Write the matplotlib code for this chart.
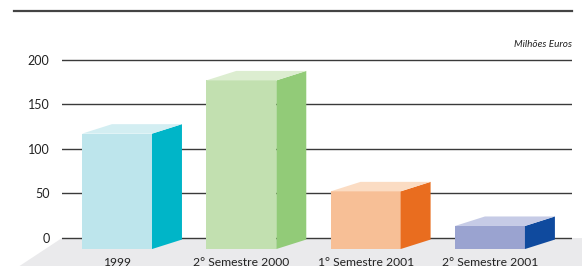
import matplotlib
matplotlib.use("Agg")
import matplotlib.pyplot as plt
from matplotlib.patches import Polygon

plt.rcParams['font.family'] = ['Lato', 'DejaVu Sans']

# Dados (milhões de euros)
categorias = ['1999', '2° Semestre 2000', '1° Semestre 2001', '2° Semestre 2001']
valores = [117, 177, 52, 13]
y_ticks = [0, 50, 100, 150, 200]

# Cores: frente, lado, topo
cor_frente = ['#bde5ec', '#c2e0b0', '#f7bf96', '#9aa3d0']
cor_lado = ['#00b5c8', '#92cb78', '#e96d1f', '#0f4a9e']
cor_topo = ['#d3eef2', '#dcedd0', '#fbdcc3', '#c6cbe6']

W, H = 582, 266
fig = plt.figure(figsize=(W / 100, H / 100), dpi=100)
ax = fig.add_axes([62 / W, 0, 510 / W, 1])
ax.set_xlim(-0.4425, 3.66)
ax.set_ylim(-32.1, 267.6)
for s in ax.spines.values():
    s.set_visible(False)

# Chão cinzento
floor = Polygon([(-0.4425, -0.8), (3.8, -0.8), (3.8, -33), (-0.80, -33)],
                closed=True, facecolor='#eaeaec', edgecolor='none',
                zorder=0, clip_on=False)
ax.add_patch(floor)

# Linhas de grelha
ax.set_yticks(y_ticks)
ax.set_yticklabels([str(t) for t in y_ticks], fontsize=9, color='#222222')
ax.tick_params(axis='y', length=0, pad=9)
ax.set_xticks([])
ax.yaxis.grid(True, color='#3a3a3a', linewidth=1.0)
ax.set_axisbelow(True)

# Barras 3D
largura = 0.563
base = -13
dx, dy = 0.241, 10.7
for i, v in enumerate(valores):
    esq, dir_ = i - largura / 2, i + largura / 2
    ax.bar(i, v - base, bottom=base, width=largura, color=cor_frente[i],
           edgecolor='none', zorder=3, clip_on=False)
    lado = Polygon([(dir_, base), (dir_ + dx, base + dy), (dir_ + dx, v + dy), (dir_, v)],
                   closed=True, facecolor=cor_lado[i], edgecolor='none', zorder=3, clip_on=False)
    topo = Polygon([(esq, v), (dir_, v), (dir_ + dx, v + dy), (esq + dx, v + dy)],
                   closed=True, facecolor=cor_topo[i], edgecolor='none', zorder=3, clip_on=False)
    ax.add_patch(lado)
    ax.add_patch(topo)
    ax.text(i, -21.9, categorias[i], ha='center', va='top', fontsize=8.7,
            color='#222222', zorder=4)

# Unidade
ax.text(3.66, 217, 'Milhões Euros', ha='right', va='center', fontsize=7.2,
        style='italic', color='#222222')

# Linha superior
fig.add_artist(plt.Line2D([14 / W, 572 / W], [1 - 11 / H, 1 - 11 / H],
                          color='#444444', linewidth=1.6))

plt.savefig('out.png', dpi=100)
